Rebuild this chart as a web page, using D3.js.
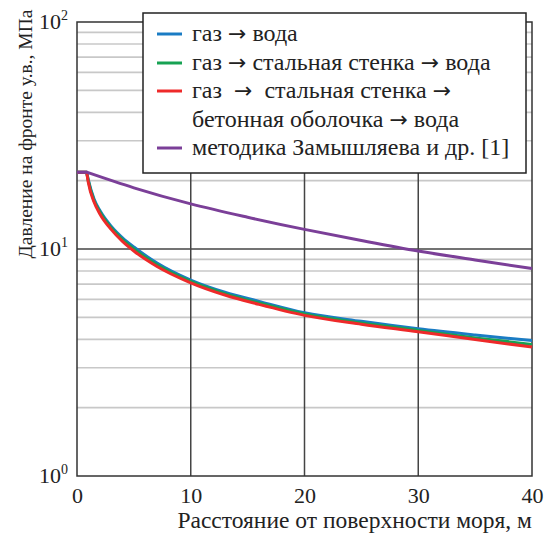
<!DOCTYPE html>
<html>
<head>
<meta charset="utf-8">
<script src="https://cdn.jsdelivr.net/npm/d3@7"></script>
</head>
<body style="margin:0; background:#fff">
<svg width="548" height="536"></svg>
<script>
// distance from sea surface, m
var xGas = [0, 0.85, 1.0, 1.5, 2, 3, 4, 5, 7, 10, 13, 16, 20, 25, 30, 35, 40];
// pressure at shock front, MPa
var pGasWater = [21.8, 21.8, 20.1, 16.6, 14.8, 12.6, 11.2, 10.2, 8.7, 7.3, 6.45, 5.88, 5.24, 4.8, 4.45, 4.18, 3.95];
var pGasSteelWater = [21.8, 21.8, 19.9, 16.3, 14.6, 12.4, 11.0, 10.0, 8.55, 7.2, 6.36, 5.78, 5.17, 4.72, 4.38, 4.06, 3.8];
var pGasSteelConcreteWater = [21.8, 21.8, 19.6, 16.1, 14.3, 12.2, 10.8, 9.8, 8.4, 7.1, 6.27, 5.7, 5.1, 4.66, 4.32, 3.99, 3.7];
var xZam = [0, 0.85, 5, 10, 15, 20, 25, 30, 35, 40];
var pZam = [21.8, 21.8, 18.6, 15.8, 13.8, 12.2, 10.9, 9.8, 8.95, 8.2];

var xTicks = [0, 10, 20, 30, 40];
var yDecades = [1, 10, 100];
var yExps = ['0', '1', '2'];

var legendLabels = [
    ['газ → вода'],
    ['газ → стальная стенка → вода'],
    ['газ  →  стальная стенка →', 'бетонная оболочка → вода'],
    ['методика Замышляева и др. [1]']
];
var colors = ['#1a7cc4', '#17a253', '#ee2a2a', '#7b3f98'];

var serif = '"Liberation Serif"';
var svg = d3.select('svg');
var padding = {t: 22, r: 16, b: 60, l: 77};
var chartWidth = 548 - padding.l - padding.r;
var chartHeight = 536 - padding.t - padding.b;

var xScale = d3.scaleLinear().domain([0, 40]).range([0, chartWidth]);
var yScale = d3.scaleLog().domain([1, 100]).range([chartHeight, 0]);

var chartG = svg.append('g')
    .attr('transform', 'translate(' + [padding.l, padding.t] + ')');

// minor grid
var minor = [];
[1, 10].forEach(function(d) {
    for (var k = 2; k <= 9; k++) minor.push(d * k);
});
chartG.selectAll('.minor')
    .data(minor)
    .enter().append('line')
    .attr('x1', 0).attr('x2', chartWidth)
    .attr('y1', function(d) { return yScale(d); })
    .attr('y2', function(d) { return yScale(d); })
    .attr('stroke', '#c8c8c8')
    .attr('stroke-width', 1.6);

// major grid
chartG.selectAll('.vmajor')
    .data([10, 20, 30])
    .enter().append('line')
    .attr('x1', function(d) { return xScale(d); })
    .attr('x2', function(d) { return xScale(d); })
    .attr('y1', 0).attr('y2', chartHeight)
    .attr('stroke', '#444')
    .attr('stroke-width', 1.5);
chartG.append('line')
    .attr('x1', 0).attr('x2', chartWidth)
    .attr('y1', yScale(10)).attr('y2', yScale(10))
    .attr('stroke', '#444')
    .attr('stroke-width', 1.5);

// frame
chartG.append('rect')
    .attr('width', chartWidth).attr('height', chartHeight)
    .attr('fill', 'none')
    .attr('stroke', '#333')
    .attr('stroke-width', 1.5);

// x tick labels
var xAxisG = chartG.append('g')
    .attr('transform', 'translate(' + [0, chartHeight] + ')')
    .call(d3.axisBottom(xScale).tickValues(xTicks).tickSize(0).tickPadding(11));
xAxisG.select('.domain').remove();
xAxisG.attr('font-family', serif).attr('font-size', 22);
xAxisG.selectAll('text').attr('fill', '#222');

// y tick labels
var yLab = chartG.selectAll('.ylab')
    .data(yDecades)
    .enter().append('text')
    .attr('x', -9)
    .attr('y', function(d) { return yScale(d) + 7; })
    .attr('text-anchor', 'end')
    .attr('font-family', serif)
    .attr('font-size', 22)
    .attr('fill', '#222');
yLab.append('tspan').text('10');
yLab.append('tspan')
    .attr('dy', -9)
    .attr('font-size', 14)
    .text(function(d, i) { return yExps[i]; });

// curves: flat start drawn straight, the decay smoothed
var line = d3.line()
    .x(function(d) { return xScale(d[0]); })
    .y(function(d) { return yScale(d[1]); })
    .curve(d3.curveMonotoneX);
var straight = d3.line()
    .x(function(d) { return xScale(d[0]); })
    .y(function(d) { return yScale(d[1]); });

var series = [
    {x: xGas, y: pGasWater},
    {x: xGas, y: pGasSteelWater},
    {x: xGas, y: pGasSteelConcreteWater},
    {x: xZam, y: pZam}
];
chartG.selectAll('.curve')
    .data(series)
    .enter().append('path')
    .attr('class', 'curve')
    .attr('fill', 'none')
    .attr('stroke', function(d, i) { return colors[i]; })
    .attr('stroke-width', 3)
    .attr('stroke-linejoin', 'round')
    .attr('d', function(s) {
        var pts = s.x.map(function(x, i) { return [x, s.y[i]]; });
        return straight(pts.slice(0, 2)) + line(pts.slice(1)).replace(/^M/, 'L');
    });

// legend
var legendG = svg.append('g').attr('transform', 'translate(143,13)');
legendG.append('rect')
    .attr('width', 383).attr('height', 160)
    .attr('fill', '#fff')
    .attr('stroke', '#222')
    .attr('stroke-width', 1.5);
var rowY = [21, 50, 78, 135];
legendLabels.forEach(function(lines, i) {
    legendG.append('line')
        .attr('x1', 14).attr('x2', 39)
        .attr('y1', rowY[i]).attr('y2', rowY[i])
        .attr('stroke', colors[i])
        .attr('stroke-width', 3);
    lines.forEach(function(t, j) {
        var txt = legendG.append('text')
            .attr('x', 49)
            .attr('y', rowY[i] + 7 + j * 28.5)
            .attr('font-family', serif)
            .attr('font-size', 24)
            .attr('fill', '#222')
            .attr('xml:space', 'preserve');
        // longer arrows, as in the original
        t.split('→').forEach(function(part, k) {
            if (k > 0) txt.append('tspan').attr('font-family', '"DejaVu Sans"').attr('font-size', 22).text('→');
            txt.append('tspan').text(part);
        });
    });
});

// axis titles
svg.append('text')
    .attr('x', 532).attr('y', 528)
    .attr('text-anchor', 'end')
    .attr('font-family', serif)
    .attr('font-size', 23.5)
    .attr('fill', '#222')
    .text('Расстояние от поверхности моря, м');
svg.append('text')
    .attr('transform', 'translate(32,134) rotate(-90)')
    .attr('text-anchor', 'middle')
    .attr('font-family', serif)
    .attr('font-size', 19.5)
    .attr('fill', '#222')
    .text('Давление на фронте у.в., МПа');
</script>
</body>
</html>
